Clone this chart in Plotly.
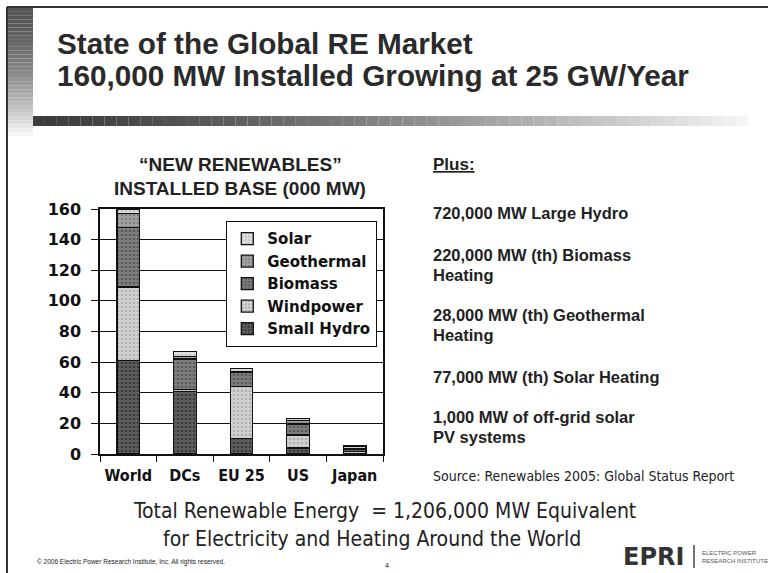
import plotly.graph_objects as go

# ---------------- data ----------------
categories = ["World", "DCs", "EU 25", "US", "Japan"]
small_hydro = [61, 41, 10, 4, 0.3]
windpower = [48, 1, 34, 8.5, 1.5]
biomass = [39, 20, 9, 7, 1.4]
geothermal = [9, 1.5, 1, 2.5, 0.5]
solar = [3, 3.5, 2, 1, 1.5]
y_ticks = [0, 20, 40, 60, 80, 100, 120, 140, 160]

series_names = ["Small Hydro", "Windpower", "Biomass", "Geothermal", "Solar"]
series_values = [small_hydro, windpower, biomass, geothermal, solar]
series_colors = ["#5e5e5e", "#d2d2d2", "#7e7e7e", "#a2a2a2", "#e0e0e0"]
series_dots = ["#3a3a3a", "#b0b0b0", "#5a5a5a", "#808080", "#c4c4c4"]

plus_lines = [
    ("720,000 MW Large Hydro", 213),
    ("220,000 MW (th) Biomass", 255),
    ("Heating", 275),
    ("28,000 MW (th) Geothermal", 315),
    ("Heating", 335),
    ("77,000 MW (th) Solar Heating", 377),
    ("1,000 MW of off-grid solar", 417),
    ("PV systems", 437),
]

# ---------------- geometry ----------------
W, H = 768, 573
L, R, T, B = 100, 385, 209, 119
PW, PH = W - L - R, H - T - B


def px(x):
    return (x - L) / PW


def py(y):
    return (H - B - y) / PH


fig = go.Figure()
for name, vals, col, dot in zip(series_names, series_values, series_colors, series_dots):
    fig.add_trace(go.Bar(
        x=categories, y=vals, name=name,
        marker=dict(color=col, line=dict(color="#111111", width=1.3),
                    pattern=dict(shape=".", fgcolor=dot, bgcolor=col, size=4, solidity=0.35)),
    ))

ARIAL = "Liberation Sans, Arial, sans-serif"
NARROW = "Liberation Sans Narrow, DejaVu Sans Condensed, Arial Narrow, sans-serif"
VERD = "DejaVu Sans, Verdana, sans-serif"

shapes = []
# slide border lines
shapes.append(dict(type="line", xref="paper", yref="paper", x0=px(7), x1=px(768), y0=py(7), y1=py(7),
                   line=dict(color="#333333", width=2)))
shapes.append(dict(type="line", xref="paper", yref="paper", x0=px(7), x1=px(7), y0=py(7), y1=py(573),
                   line=dict(color="#333333", width=2)))
# left vertical gradient strip
n = 34
for i in range(n):
    y0 = 8 + i * (140 - 8) / n
    y1 = 8 + (i + 1) * (140 - 8) / n
    t = i / (n - 1)
    g = int(85 + (255 - 85) * (t ** 1.6))
    shapes.append(dict(type="rect", xref="paper", yref="paper", x0=px(8), x1=px(33), y0=py(y0), y1=py(y1),
                       fillcolor=f"rgb({g},{g},{g})", line=dict(width=0), layer="below"))
# horizontal gradient bar
n = 60
for i in range(n):
    x0 = 33 + i * (748 - 33) / n
    x1 = 33 + (i + 1) * (748 - 33) / n
    t = i / (n - 1)
    g = int(60 + (245 - 60) * (t ** 1.3))
    shapes.append(dict(type="rect", xref="paper", yref="paper", x0=px(x0), x1=px(x1), y0=py(116), y1=py(126),
                       fillcolor=f"rgb({g},{g},{g})", line=dict(width=0), layer="below"))
# EPRI logo divider
shapes.append(dict(type="line", xref="paper", yref="paper", x0=px(694), x1=px(694), y0=py(545), y1=py(568),
                   line=dict(color="#444444", width=1.5)))

annotations = []


def add_text(text, x, y, size, family=ARIAL, color="#222222", xanchor="left", yanchor="middle", align="left"):
    annotations.append(dict(text=text, x=px(x), y=py(y), xref="paper", yref="paper", showarrow=False,
                            xanchor=xanchor, yanchor=yanchor, align=align,
                            font=dict(family=family, size=size, color=color)))


add_text("<b>State of the Global RE Market</b>", 55, 44, 29.7, color="#2a2a2a")
add_text("<b>160,000 MW Installed Growing at 25 GW/Year</b>", 55, 76, 29.7, color="#2a2a2a")
add_text("<b>“NEW RENEWABLES”</b>", 240, 164, 19, xanchor="center")
add_text("<b>INSTALLED BASE (000 MW)</b>", 240, 188, 19, xanchor="center")
add_text("<b><u>Plus:</u></b>", 431, 164, 17)
for txt, yy in plus_lines:
    add_text(f"<b>{txt}</b>", 431, yy, 16.5)
add_text("Source: Renewables 2005: Global Status Report", 431, 476, 14, family=NARROW)
add_text("Total Renewable Energy  = 1,206,000 MW Equivalent", 384, 511, 21, family=NARROW, xanchor="center")
add_text("for Electricity and Heating Around the World", 372, 539, 21, family=NARROW, xanchor="center")
add_text("© 2006 Electric Power Research Institute, Inc. All rights reserved.", 35, 562, 6.5, family=ARIAL)
add_text("4", 383, 565, 7, family=ARIAL)
add_text("<b>EPRI</b>", 653, 557, 24, family=VERD, xanchor="center", color="#333333")
add_text("ELECTRIC POWER<br>RESEARCH INSTITUTE", 700, 557, 6, family=ARIAL, color="#555555")

fig.update_layout(
    width=W, height=H,
    margin=dict(l=L, r=R, t=T, b=B, pad=0),
    template="none",
    barmode="stack",
    bargap=0.6,
    paper_bgcolor="white",
    plot_bgcolor="white",
    showlegend=True,
    legend=dict(
        x=px(226), y=py(221), xanchor="left", yanchor="top",
        bgcolor="white", bordercolor="#111111", borderwidth=1.3,
        font=dict(family=VERD, size=15, color="#111111", weight="bold"),
        traceorder="reversed", itemwidth=30, tracegroupgap=0,
    ),
    xaxis=dict(
        type="category", showline=True, linecolor="#111111", linewidth=1.5, mirror=True,
        ticks="outside", ticklen=6, tickcolor="#111111", tickson="boundaries",
        tickfont=dict(family=NARROW, size=16, color="#111111", weight="bold"),
        ticklabelstandoff=6,
        showgrid=False, automargin=False,
    ),
    yaxis=dict(
        range=[0, 160], tickvals=y_ticks, ticktext=[str(v) for v in y_ticks],
        showline=True, linecolor="#111111", linewidth=1.5, mirror=True,
        ticks="outside", ticklen=7, tickcolor="#111111",
        showgrid=True, gridcolor="#111111", gridwidth=1, zeroline=False,
        tickfont=dict(family=VERD, size=16, color="#111111", weight="bold"),
        ticklabelstandoff=7,
        automargin=False,
    ),
    shapes=shapes,
    annotations=annotations,
)

fig.write_html("out.html", config={"displayModeBar": False},
               post_script="document.body.style.margin='0';document.body.style.overflow='hidden';")
